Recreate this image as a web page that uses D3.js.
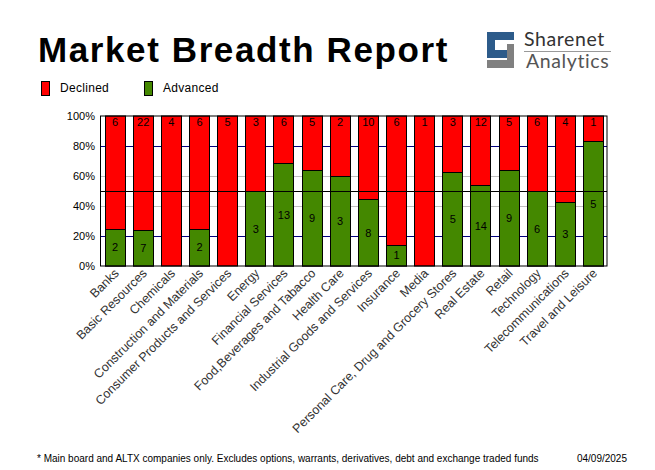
<!DOCTYPE html>
<html><head><meta charset="utf-8">
<script src="https://cdn.jsdelivr.net/npm/d3@7"></script>
<style>body{margin:0;background:#fff}svg{display:block}</style>
</head><body>
<svg id="c" width="655" height="470"></svg>
<script>
const categories = ["Banks","Basic Resources","Chemicals","Construction and Materials","Consumer Products and Services","Energy","Financial Services","Food,Beverages and Tabacco","Health Care","Industrial Goods and Services","Insurance","Media","Personal Care, Drug and Grocery Stores","Real Estate","Retail","Technology","Telecommunications","Travel and Leisure"];
const declined = [6,22,4,6,5,3,6,5,2,10,6,1,3,12,5,6,4,1];
const advanced = [2,7,0,2,0,3,13,9,3,8,1,0,5,14,9,6,3,5];
const yTicks = [0,20,40,60,80,100];
const seriesNames = ["Declined","Advanced"];
const seriesColors = ["#ff0000","#448800"];

const svg = d3.select("#c");
const F = "'Liberation Sans', Arial, sans-serif";

// Title
svg.append("text").attr("x",38).attr("y",62).attr("font-family",F).attr("font-weight","bold")
  .attr("font-size",35).attr("letter-spacing","1.6px").attr("fill","#000").text("Market Breadth Report");

// Logo
const lg = svg.append("g").attr("transform","translate(487,32)");
lg.append("path").attr("d","M0,0H27V8H8V18H20V26H0Z").attr("fill","#2d5b8a");
lg.append("path").attr("d","M27,12V36H0V28H20V12Z").attr("fill","#808080");
svg.append("text").attr("x",524).attr("y",46).attr("font-family","Lato, 'Open Sans', sans-serif")
  .attr("font-size",19.5).attr("letter-spacing","0.6px").attr("fill","#333").text("Sharenet");
svg.append("line").attr("x1",524).attr("x2",611).attr("y1",51.5).attr("y2",51.5).attr("stroke","#999");
svg.append("text").attr("x",526).attr("y",68).attr("font-family","Lato, 'Open Sans', sans-serif")
  .attr("font-size",19.5).attr("letter-spacing","0.6px").attr("fill","#555").text("Analytics");

// Legend
const legX = [41,144];
seriesNames.forEach((n,i)=>{
  svg.append("rect").attr("x",legX[i]+0.5).attr("y",81.5).attr("width",8).attr("height",14)
    .attr("fill",seriesColors[i]).attr("stroke","#000");
  svg.append("text").attr("x",legX[i]+19).attr("y",92).attr("font-family",F).attr("font-size",12)
    .attr("letter-spacing","0.3px").attr("fill","#000").text(n);
});

// Plot
const L=100.5, R=607, T=116, B=266;
const x = d3.scaleBand().domain(categories).range([L,R]).paddingInner(0.29).paddingOuter(0.145);
const y = d3.scaleLinear().domain([0,100]).range([B,T]);
const data = categories.map((c,i)=>{const tot=declined[i]+advanced[i];return {c,d:declined[i],a:advanced[i],ap:advanced[i]/tot*100};});

// gridlines behind
const gridColor = {20:"#000080",40:"#c0c0c0",60:"#c0c0c0",80:"#000080"};
[20,40,60,80].forEach(t=>{
  svg.append("line").attr("x1",L).attr("x2",R).attr("y1",Math.round(y(t))+0.5).attr("y2",Math.round(y(t))+0.5)
    .attr("stroke",gridColor[t]).attr("stroke-width",1);
});

const g = svg.append("g");
g.selectAll(".red").data(data).join("rect")
  .attr("x",d=>Math.round(x(d.c))+0.5).attr("width",Math.round(x.bandwidth()))
  .attr("y",y(100)).attr("height",y(0)-y(100))
  .attr("fill",seriesColors[0]).attr("stroke","#000");
g.selectAll(".grn").data(data.filter(d=>d.a>0)).join("rect")
  .attr("x",d=>Math.round(x(d.c))+0.5).attr("width",Math.round(x.bandwidth()))
  .attr("y",d=>Math.round(y(d.ap))+0.5).attr("height",d=>y(0)-Math.round(y(d.ap))-0.5)
  .attr("fill",seriesColors[1]).attr("stroke","#000");

// 50% line
svg.append("line").attr("x1",L).attr("x2",R).attr("y1",y(50)+0.5).attr("y2",y(50)+0.5).attr("stroke","#000");

// frame
svg.append("rect").attr("x",L).attr("y",T).attr("width",R-L).attr("height",B-T).attr("fill","none").attr("stroke","#000");

// value labels
g.selectAll(".dl").data(data).join("text")
  .attr("x",d=>x(d.c)+x.bandwidth()/2+0.5).attr("y",y(100)+10).attr("text-anchor","middle")
  .attr("font-family",F).attr("font-size",11).attr("fill","#000").text(d=>d.d);
g.selectAll(".al").data(data.filter(d=>d.a>0)).join("text")
  .attr("x",d=>x(d.c)+x.bandwidth()/2+0.5).attr("y",d=>(y(d.ap)+y(0))/2+4).attr("text-anchor","middle")
  .attr("font-family",F).attr("font-size",11).attr("fill","#000").text(d=>d.a);

// y axis labels
svg.selectAll(".yt").data(yTicks).join("text")
  .attr("x",95).attr("y",d=>y(d)+4).attr("text-anchor","end")
  .attr("font-family",F).attr("font-size",11).attr("fill","#000").text(d=>d+"%");

// x labels
svg.selectAll(".xt").data(categories).join("text")
  .attr("transform",d=>`translate(${x(d)+x.bandwidth()/2+5},${B+8}) rotate(-45)`)
  .attr("text-anchor","end").attr("font-family",F).attr("font-size",12.5).attr("fill","#333").text(d=>d);

// footer
svg.append("text").attr("x",37).attr("y",462).attr("font-family",F).attr("font-size",10).attr("fill","#000")
  .text("* Main board and ALTX companies only. Excludes options, warrants, derivatives, debt and exchange traded funds");
svg.append("text").attr("x",627).attr("y",462).attr("text-anchor","end").attr("font-family",F).attr("font-size",10).attr("fill","#000")
  .text("04/09/2025");
</script>
</body></html>
